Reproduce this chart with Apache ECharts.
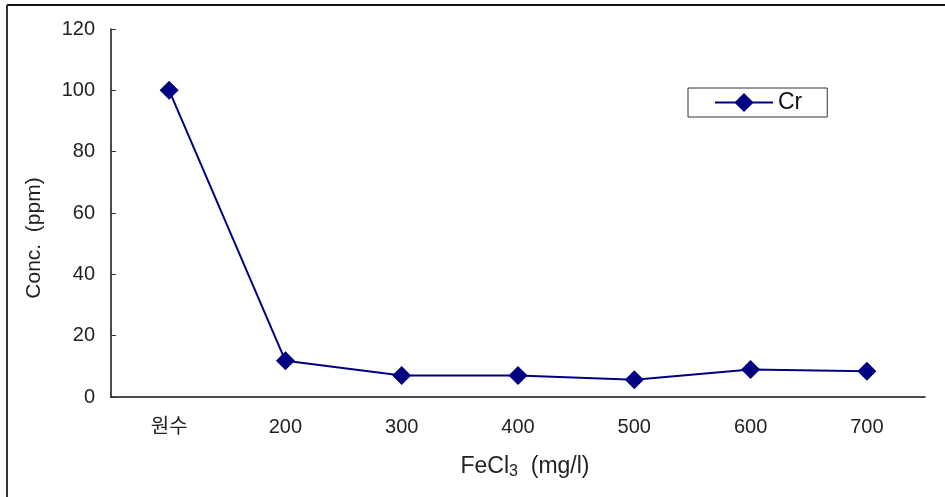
<!DOCTYPE html>
<html>
<head>
<meta charset="utf-8">
<script src="https://cdn.jsdelivr.net/npm/echarts@6/dist/echarts.min.js"></script>
<style>html,body{margin:0;padding:0;background:#fff}#c{width:945px;height:497px}</style>
</head>
<body>
<div id="c"></div>
<script>
const categories = ['원수', '200', '300', '400', '500', '600', '700'];
const crValues = [100, 11.8, 7, 7, 5.6, 9, 8.4];
const yTicks = [0, 20, 40, 60, 80, 100, 120];
const seriesName = 'Cr';
const yTitle = 'Conc.  (ppm)';

const FONT = '"Liberation Sans", "Noto Sans CJK KR", sans-serif';
const chart = echarts.init(document.getElementById('c'));
chart.setOption({
  backgroundColor: '#fff',
  animation: false,
  textStyle: { fontFamily: FONT },
  graphic: [
    { type: 'line', shape: { x1: 7, y1: 5, x2: 945, y2: 5 }, style: { stroke: '#111', lineWidth: 2 } },
    { type: 'line', shape: { x1: 7, y1: 5, x2: 7, y2: 497 }, style: { stroke: '#333', lineWidth: 2 } },
    { type: 'text', x: 34, y: 238, rotation: Math.PI / 2,
      style: { text: yTitle, fontSize: 21, fill: '#222', fontFamily: FONT, align: 'center', verticalAlign: 'middle' } },
    { type: 'text', x: 525, y: 467,
      style: { text: 'FeCl{s|3}  (mg/l)', fontSize: 23, fill: '#222', fontFamily: FONT, align: 'center', verticalAlign: 'middle',
        rich: { s: { fontSize: 16, fill: '#222', padding: [10, 0, 0, 0], fontFamily: FONT } } } }
  ],
  grid: { left: 111, right: 20, top: 29, bottom: 100 },
  legend: {
    data: [seriesName],
    left: 688, top: 88,
    orient: 'horizontal',
    itemWidth: 58, itemHeight: 24,
    padding: [3, 25, 3, 26],
    borderColor: '#333', borderWidth: 1,
    textStyle: { fontSize: 23, color: '#111', fontFamily: FONT }
  },
  xAxis: {
    type: 'category',
    data: categories,
    boundaryGap: true,
    axisLine: { lineStyle: { color: '#111', width: 1.5 } },
    axisTick: { inside: true, length: 5, lineStyle: { color: '#333' }, alignWithLabel: false },
    axisLabel: { fontSize: 20, color: '#222', margin: 20, fontFamily: FONT },
    splitLine: { show: false }
  },
  yAxis: {
    type: 'value',
    min: yTicks[0], max: yTicks[yTicks.length - 1], interval: 20,
    axisLine: { show: true, lineStyle: { color: '#111', width: 1.5 } },
    axisTick: { show: true, inside: true, length: 5, lineStyle: { color: '#333' } },
    axisLabel: { fontSize: 20, color: '#222', margin: 16, fontFamily: FONT },
    splitLine: { show: false }
  },
  series: [{
    name: seriesName,
    type: 'line',
    data: crValues,
    symbol: 'diamond',
    symbolSize: 19,
    itemStyle: { color: '#000080' },
    lineStyle: { color: '#000080', width: 2 }
  }]
});
</script>
</body>
</html>
